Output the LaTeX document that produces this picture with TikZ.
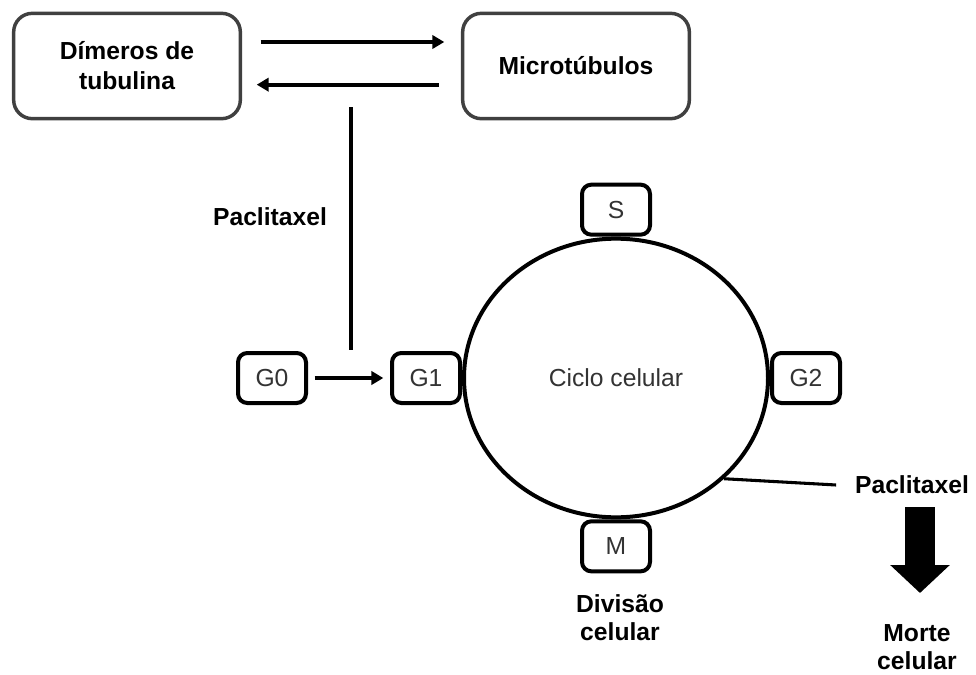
\documentclass[tikz,border=0pt]{standalone}
\usepackage{fontspec}
\setmainfont{Liberation Sans}
\usetikzlibrary{arrows.meta,shapes.geometric}
\tikzset{%
  tube box/.style={
    draw=black!75,
    line width=2.6pt,
    rounded corners=14pt,
    minimum width=170pt,
    minimum height=79pt,
    align=center,
    font=\bfseries\fontsize{18.5}{22.5}\selectfont
  },
  phase/.style={
    draw,
    fill=white,
    line width=3pt,
    rounded corners=7pt,
    minimum width=51pt,
    minimum height=37.5pt,
    text=black!80,
    font=\fontsize{18.5}{22}\selectfont
  },
  drug label/.style={
    align=center,
    inner sep=1pt,
    font=\bfseries\fontsize{18.5}{21}\selectfont
  },
}

\begin{document}
\begin{tikzpicture}[x=0.75pt, y=-0.75pt, >={Triangle[length=9pt,width=10pt]}]
        \useasboundingbox (0,0) rectangle (976,675);

        % tubulin equilibrium
        \node [tube box] (dimers) at (127,66) {D\'imeros de\\tubulina};
        \node [tube box] (micro) at (576,66) {Microt\'ubulos};
        \draw [->, line width=2.8pt] ([xshift=14pt, yshift=18pt]dimers.east) -- ([xshift=-12.5pt, yshift=18pt]micro.west);
        \draw [->, line width=2.8pt] ([xshift=-16.5pt, yshift=-14pt]micro.west) -- ([xshift=11pt, yshift=-14pt]dimers.east);

        % first paclitaxel block
        \coordinate (pac-top) at (351,107);
        \coordinate (pac-bottom) at (351,350);
        \draw [line width=3pt] (pac-top) -- (pac-bottom);
        \node [drug label] (pac-1) at (270,217) {Paclitaxel};

        % cell cycle
        \node [ellipse, draw, line width=3pt, minimum width=228pt, minimum height=209pt,
          text=black!80, font=\fontsize{18.5}{22}\selectfont] (cycle) at (616,378) {Ciclo celular};
        \foreach \ph/\ang/\anc in {G1/180/east, S/90/south, G2/0/west, M/270/north}
          \node [phase, anchor=\anc] (phase-\ph) at (cycle.\ang) {\ph};
        \node [phase] (phase-G0) at (272,378) {G0};
        \draw [->, line width=3pt, shorten <=5pt, shorten >=5pt] (phase-G0) -- (phase-G1);

        \node [drug label] (division) at (620,618) {Divis\~ao\\celular};

        % second paclitaxel block
        \node [drug label] (pac-2) at (912,485) {Paclitaxel};
        \draw [line width=2.3pt] (cycle.-43) -- ([xshift=-13pt]pac-2.west);
        \draw [line width=22pt, -{Triangle[length=21pt,width=43.5pt]}] (pac-2.center) ++(8,22) -- ++(0,86);
        \node [drug label] (death) at (917,647) {Morte\\celular};
\end{tikzpicture}
\end{document}
